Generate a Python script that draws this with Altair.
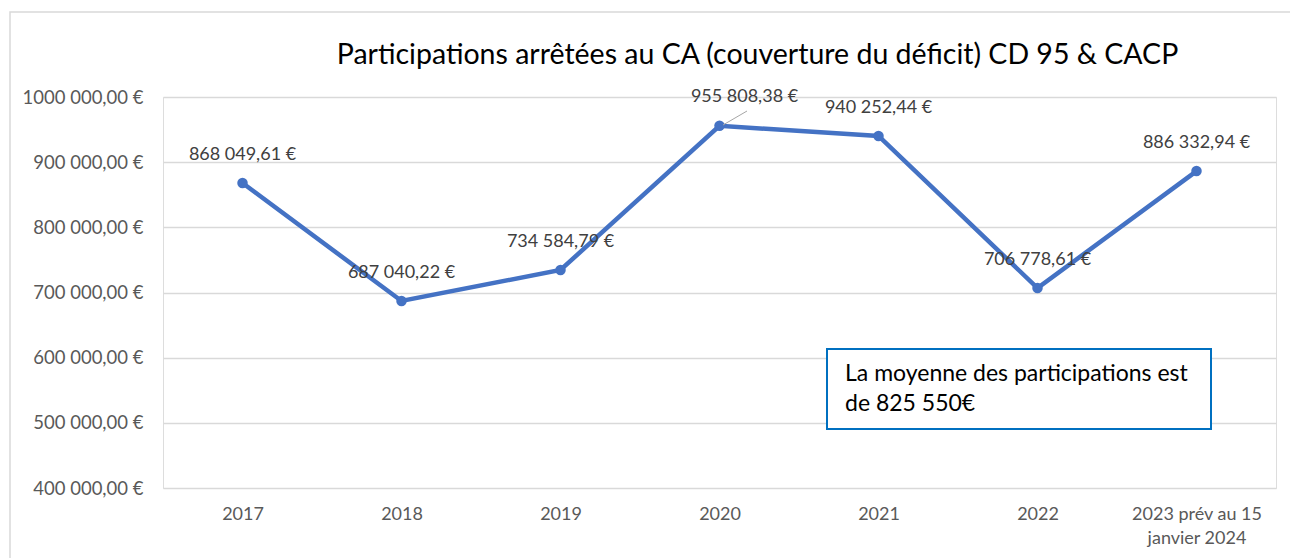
import altair as alt
import pandas as pd

years = ["2017", "2018", "2019", "2020", "2021", "2022", "2023 prév au 15 janvier 2024"]
values = [868049.61, 687040.22, 734584.79, 955808.38, 940252.44, 706778.61, 886332.94]
y_ticks = [400000, 500000, 600000, 700000, 800000, 900000, 1000000]
title_text = "Participations arrêtées au CA (couverture du déficit) CD 95 & CACP"
note_lines = ["La moyenne des participations est", "de 825 550€"]


def fr(v):
    s = f"{v:,.2f}"
    s = s.replace(",", " ").replace(".", ",")
    return s + " €"


df = pd.DataFrame({"year": years, "value": values, "label": [fr(v) for v in values]})

W, H = 1113, 391
FONT = "Lato"

x_enc = alt.X(
    "year:N",
    sort=years,
    scale=alt.Scale(paddingInner=0, paddingOuter=0, domain=years),
    axis=alt.Axis(
        title=None,
        ticks=False,
        domain=False,
        labelAngle=0,
        labelPadding=17,
        labelFontSize=18,
        labelColor="#595959",
        labelFont=FONT,
        labelLineHeight=24,
        labelExpr="datum.label == '2023 prév au 15 janvier 2024' ? ['2023 prév au 15', 'janvier 2024'] : datum.label",
    ),
)
y_enc = alt.Y(
    "value:Q",
    scale=alt.Scale(domain=[400000, 1000000], nice=False, zero=False),
    axis=alt.Axis(
        title=None,
        values=y_ticks,
        ticks=False,
        domain=False,
        labelPadding=20,
        labelFontSize=18.5,
        labelColor="#595959",
        labelFont=FONT,
        gridColor="#D9D9D9",
        gridWidth=1.5,
        labelExpr="floor(datum.value/1000) + ' 000,00 €'",
    ),
)

base = alt.Chart(df)

border = base.mark_rect(fillOpacity=0, stroke="#D9D9D9", strokeWidth=1.5).encode(
    x=alt.value(-153), x2=alt.value(W + 30), y=alt.value(-85), y2=alt.value(H + 90)
).transform_filter("datum.year == '2017'")

line = base.mark_line(color="#4472C4", strokeWidth=4.5).encode(x=x_enc, y=y_enc)
points = base.mark_circle(color="#4472C4", size=110, opacity=1).encode(x=x_enc, y=y_enc)

labels_main = base.mark_text(
    fontSize=18, font=FONT, color="#404040", dy=-28
).encode(x=x_enc, y=y_enc, text="label:N").transform_filter("datum.year != '2020'")

labels_2020 = base.mark_text(
    fontSize=18, font=FONT, color="#404040", dy=-29, dx=25
).encode(x=x_enc, y=y_enc, text="label:N").transform_filter("datum.year == '2020'")

leader = base.mark_rule(color="#A6A6A6", strokeWidth=1).encode(
    x=alt.value(560), x2=alt.value(584), y=alt.value(28), y2=alt.value(14)
).transform_filter("datum.year == '2020'")

box = base.mark_rect(fill="white", stroke="#0070C0", strokeWidth=2).encode(
    x=alt.value(664), x2=alt.value(1048), y=alt.value(252), y2=alt.value(332)
).transform_filter("datum.year == '2017'")

note = base.mark_text(
    fontSize=23, font=FONT, color="#000000", align="left", baseline="middle", lineHeight=30
).encode(
    x=alt.value(682), y=alt.value(277), text=alt.value(note_lines)
).transform_filter("datum.year == '2017'")

chart = (
    alt.layer(border, line, points, labels_main, labels_2020, leader, box, note)
    .properties(
        width=W,
        height=H,
        padding={"left": 163, "top": 97, "right": 14, "bottom": 70},
        autosize=alt.AutoSizeParams(type="none"),
        title=alt.TitleParams(
            text=title_text,
            font=FONT,
            fontSize=28.5,
            fontWeight="normal",
            color="#000000",
            anchor="middle",
            frame="group",
            dx=38,
            offset=-58,
        ),
    )
    .configure_view(stroke=None)
    .configure(background="white")
)

chart.save("out.html", embed_options={"renderer": "svg", "actions": False})
